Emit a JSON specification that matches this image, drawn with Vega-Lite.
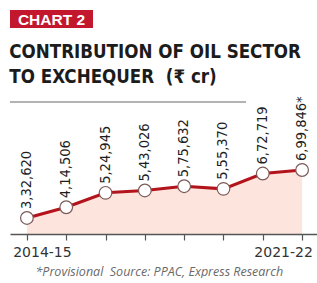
{
  "$schema": "https://vega.github.io/schema/vega-lite/v6.json",
  "padding": {"left": 9, "top": 10, "right": 0, "bottom": 0},
  "background": "#ffffff",
  "config": {"view": {"stroke": null}},
  "spacing": 14,
  "vconcat": [
    {
      "width": 83,
      "height": 18,
      "view": {"fill": "#c3172d", "stroke": null},
      "data": {"values": [{"badge": "CHART 2"}]},
      "mark": {"type": "text", "color": "#ffffff", "font": "Liberation Sans", "fontWeight": "bold", "fontSize": 15.5, "baseline": "middle", "dy": 1},
      "encoding": {"text": {"field": "badge"}}
    },
    {
      "spacing": 0,
      "bounds": "flush",
      "vconcat": [
        {
          "width": 236,
          "height": 1,
          "title": {
            "text": ["CONTRIBUTION OF OIL SECTOR", "TO EXCHEQUER\u00a0\u00a0(₹ cr)"],
            "anchor": "start",
            "font": "DejaVu Sans Condensed, DejaVu Sans, sans-serif",
            "fontWeight": "bold",
            "fontSize": 18.6,
            "lineHeight": 25,
            "color": "#1c1c1c",
            "offset": 14
          },
          "data": {"values": [{"v": 0}]},
          "mark": {"type": "rule", "color": "#9a9a9a", "strokeWidth": 1.5},
          "encoding": {
            "y": {"field": "v", "type": "quantitative", "scale": {"domain": [0, 1]}, "axis": null}
          }
        },
        {
          "width": 309,
          "height": 132,
          "data": {
            "values": [
              {"year": "2014-15", "value": 332620, "label": "3,32,620"},
              {"year": "2015-16", "value": 414506, "label": "4,14,506"},
              {"year": "2016-17", "value": 524945, "label": "5,24,945"},
              {"year": "2017-18", "value": 543026, "label": "5,43,026"},
              {"year": "2018-19", "value": 575632, "label": "5,75,632"},
              {"year": "2019-20", "value": 555370, "label": "5,55,370"},
              {"year": "2020-21", "value": 672719, "label": "6,72,719"},
              {"year": "2021-22", "value": 699846, "label": "6,99,846*"}
            ]
          },
          "encoding": {
            "x": {
              "field": "year",
              "type": "ordinal",
              "scale": {"type": "point", "padding": 0.43},
              "axis": {
                "title": "*Provisional\u00a0 Source: PPAC, Express Research",
                "titleFont": "Open Sans",
                "titleFontStyle": "italic",
                "titleFontWeight": "normal",
                "titleFontSize": 12.5,
                "titleColor": "#6a6a6a",
                "titleAlign": "left",
                "titleX": 25,
                "titlePadding": 6,
                "labelAngle": 0,
                "labelExpr": "datum.label == '2014-15' || datum.label == '2021-22' ? datum.label : ''",
                "labelFont": "DejaVu Sans",
                "labelFontSize": 14,
                "labelColor": "#333333",
                "labelPadding": 5,
                "labelOffset": {"condition": {"test": "datum.label == '2014-15'", "value": 15}, "value": -19},
                "domainColor": "#555555",
                "domainWidth": 1.5,
                "tickColor": "#555555",
                "tickWidth": 1.2,
                "tickSize": 6,
                "zindex": 1
              }
            },
            "y": {
              "field": "value",
              "type": "quantitative",
              "scale": {"domain": [210000, 1220000], "zero": false},
              "axis": null
            }
          },
          "layer": [
            {"mark": {"type": "area", "color": "#fde4dd", "opacity": 1}, "encoding": {"y2": {"datum": 210000}}},
            {"mark": {"type": "line", "color": "#b3141c", "strokeWidth": 3}},
            {"mark": {"type": "point", "filled": true, "fill": "#ffffff", "stroke": "#7d5a5a", "strokeWidth": 1.2, "size": 160, "opacity": 1}},
            {
              "mark": {"type": "text", "angle": 270, "align": "left", "baseline": "middle", "dx": 9, "font": "DejaVu Sans Condensed, DejaVu Sans, sans-serif", "fontSize": 14.5, "color": "#1e1e1e"},
              "encoding": {"text": {"field": "label"}}
            }
          ]
        }
      ]
    }
  ]
}
